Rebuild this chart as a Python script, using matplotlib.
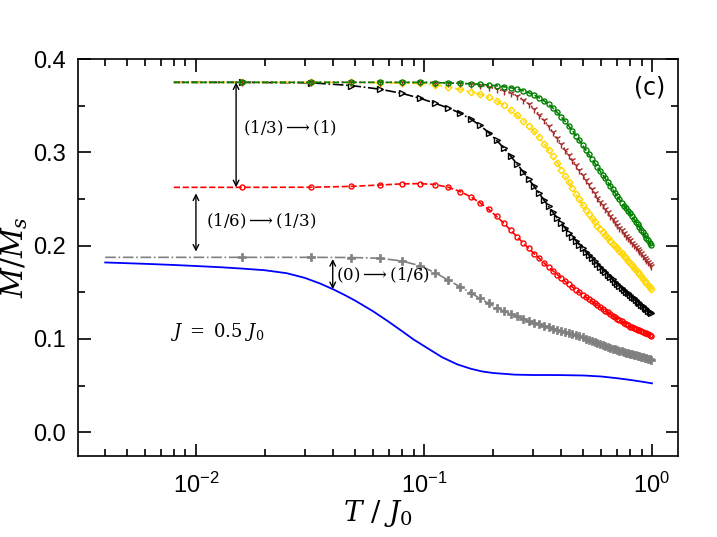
import numpy as np
import matplotlib
matplotlib.use("Agg")
import matplotlib.pyplot as plt

# temperatura de los marcadores (paso 0.016)
T = np.round(np.arange(1, 63) * 0.016, 3)

green = [0.375, 0.375, 0.375, 0.375, 0.375, 0.3749, 0.3747, 0.3744, 0.3740, 0.3735,
         0.3729, 0.3721, 0.3713, 0.3703, 0.3692, 0.3680, 0.3660, 0.3638, 0.3614, 0.3584,
         0.3552, 0.3516, 0.3474, 0.3428, 0.3380, 0.3332, 0.3282, 0.3231, 0.3180, 0.3128,
         0.3076, 0.3026, 0.2978, 0.2932, 0.2887, 0.2843, 0.2800, 0.2760, 0.2720, 0.2680,
         0.2641, 0.2603, 0.2566, 0.2530, 0.2496, 0.2462, 0.2430, 0.2405, 0.2375, 0.2345,
         0.2316, 0.2287, 0.2258, 0.2229, 0.2200, 0.2171, 0.2142, 0.2114, 0.2086, 0.2058,
         0.2030, 0.2002]
brown = [0.375, 0.375, 0.375, 0.375, 0.375, 0.3749, 0.3747, 0.3744, 0.3740, 0.3732,
         0.3718, 0.3700, 0.3680, 0.3657, 0.3632, 0.3603, 0.3565, 0.3520, 0.3468, 0.3405,
         0.3342, 0.3278, 0.3216, 0.3154, 0.3092, 0.3030, 0.2972, 0.2917, 0.2862, 0.2808,
         0.2755, 0.2705, 0.2656, 0.2608, 0.2561, 0.2516, 0.2472, 0.2432, 0.2394, 0.2357,
         0.2321, 0.2287, 0.2254, 0.2222, 0.2192, 0.2163, 0.2135, 0.2108, 0.2082, 0.2057,
         0.2033, 0.2009, 0.1986, 0.1963, 0.1940, 0.1917, 0.1894, 0.1871, 0.1848, 0.1825,
         0.1802, 0.1779]
yellow = [0.375, 0.375, 0.3749, 0.3747, 0.3743, 0.3738, 0.3725, 0.3700, 0.3675, 0.3650,
          0.3622, 0.3590, 0.3552, 0.3505, 0.3450, 0.3395, 0.3340, 0.3284, 0.3225, 0.3160,
          0.3093, 0.3025, 0.2956, 0.2886, 0.2816, 0.2746, 0.2680, 0.2617, 0.2555, 0.2495,
          0.2435, 0.2385, 0.2340, 0.2297, 0.2256, 0.2216, 0.2178, 0.2145, 0.2113, 0.2082,
          0.2052, 0.2023, 0.1996, 0.1970, 0.1944, 0.1918, 0.1892, 0.1866, 0.1841, 0.1816,
          0.1791, 0.1766, 0.1742, 0.1718, 0.1694, 0.1671, 0.1648, 0.1625, 0.1602, 0.1580,
          0.1558, 0.1536]
black = [0.3750, 0.3745, 0.3716, 0.3677, 0.3632, 0.3580, 0.3525, 0.3475, 0.3420, 0.3358,
         0.3290, 0.3212, 0.3130, 0.3045, 0.2960, 0.2875, 0.2792, 0.2712, 0.2635, 0.2560,
         0.2488, 0.2420, 0.2356, 0.2296, 0.2240, 0.2188, 0.2140, 0.2095, 0.2052, 0.2011,
         0.1972, 0.1935, 0.1900, 0.1866, 0.1834, 0.1803, 0.1773, 0.1744, 0.1716, 0.1689,
         0.1663, 0.1638, 0.1614, 0.1591, 0.1569, 0.1548, 0.1528, 0.1508, 0.1489, 0.1470,
         0.1452, 0.1434, 0.1417, 0.1400, 0.1383, 0.1367, 0.1351, 0.1335, 0.1320, 0.1305,
         0.1290, 0.1276]
red = [0.2625, 0.2626, 0.2635, 0.2650, 0.2662, 0.2665, 0.2655, 0.2625, 0.2580, 0.2525,
       0.2460, 0.2390, 0.2315, 0.2240, 0.2165, 0.2095, 0.2030, 0.1970, 0.1915, 0.1865,
       0.1815, 0.1770, 0.1730, 0.1690, 0.1652, 0.1618, 0.1586, 0.1556, 0.1527, 0.1500,
       0.1474, 0.1449, 0.1425, 0.1403, 0.1381, 0.1360, 0.1340, 0.1321, 0.1302, 0.1284,
       0.1267, 0.1245, 0.1231, 0.1217, 0.1203, 0.1189, 0.1175, 0.1161, 0.1147, 0.1132,
       0.1124, 0.1116, 0.1108, 0.1100, 0.1092, 0.1084, 0.1076, 0.1068, 0.1060, 0.1052,
       0.1044, 0.1036]
gray = [0.1875, 0.1875, 0.1873, 0.1865, 0.1836, 0.1785, 0.1710, 0.1630, 0.1560, 0.1495,
        0.1436, 0.1382, 0.1335, 0.1298, 0.1268, 0.1242, 0.1218, 0.1195, 0.1175, 0.1158,
        0.1140, 0.1125, 0.1111, 0.1097, 0.1085, 0.1073, 0.1061, 0.1050, 0.1038, 0.1027,
        0.1016, 0.1005, 0.0994, 0.0983, 0.0970, 0.0958, 0.0947, 0.0937, 0.0927, 0.0917,
        0.0907, 0.0898, 0.0890, 0.0882, 0.0874, 0.0867, 0.0860, 0.0853, 0.0846, 0.0840,
        0.0835, 0.0830, 0.0825, 0.0820, 0.0815, 0.0810, 0.0805, 0.0800, 0.0795, 0.0790,
        0.0785, 0.0780]

# inicio de las lineas (sin marcador)
T_start = 0.008
T_start_gray = 0.004

# curva azul (sin marcadores)
T_blue = [0.004, 0.005, 0.0065, 0.008, 0.01, 0.013, 0.016, 0.02, 0.025, 0.03,
          0.035, 0.04, 0.045, 0.05, 0.06, 0.07, 0.08, 0.09, 0.1, 0.12,
          0.14, 0.16, 0.18, 0.2, 0.25, 0.3, 0.35, 0.4, 0.5, 0.6,
          0.7, 0.8, 0.9, 1.0]
blue = [0.1820, 0.1812, 0.1802, 0.1793, 0.1782, 0.1768, 0.1754, 0.1737, 0.1705, 0.1655,
        0.1595, 0.1532, 0.1470, 0.1410, 0.1295, 0.1185, 0.1085, 0.0995, 0.0925, 0.0805,
        0.0728, 0.0682, 0.0652, 0.0636, 0.0618, 0.0614, 0.0614, 0.0613, 0.0609, 0.0598,
        0.0580, 0.0562, 0.0543, 0.0525]

plt.rcParams['font.family'] = ['Liberation Sans', 'DejaVu Sans']

fig = plt.figure(figsize=(7.17, 5.37), dpi=100)
ax = fig.add_axes([0.1088, 0.1508, 0.8368, 0.7393])

def curve(x0, ys, **kw):
    xs = np.concatenate([[x0], T])
    ys = np.concatenate([[ys[0]], ys])
    ax.plot(xs, ys, markevery=slice(1, None), **kw)

curve(T_start_gray, gray, color='gray', ls='-.', lw=1.2, marker='P', ms=5.5, mec='gray', mfc='gray', mew=0.5)
ax.plot(T_blue, blue, color='blue', lw=1.3)
curve(T_start, red, color='red', ls='--', lw=1.2, marker='o', ms=3.6, mfc='none', mew=1.0)
curve(T_start, black, color='black', ls='-.', lw=1.2, marker='>', ms=4.2, mfc='none', mew=1.0)
curve(T_start, yellow, color='gold', ls=(0, (5, 2, 1, 2, 1, 2)), lw=1.2, marker='D', ms=3.4, mfc='none', mew=1.0)
curve(T_start, brown, color='brown', ls=':', lw=1.2, marker='1', ms=6, mew=1.0)
curve(T_start, green, color='green', ls='--', lw=1.2, marker='o', ms=3.6, mfc='none', mew=1.0)

arrow = dict(arrowstyle='<->', lw=1.0, color='k', shrinkA=0, shrinkB=0, mutation_scale=10)
ax.annotate('', xy=(0.015, 0.375), xytext=(0.015, 0.2625), arrowprops=arrow)
ax.annotate('', xy=(0.01, 0.256), xytext=(0.01, 0.1936), arrowprops=arrow)
ax.annotate('', xy=(0.0398, 0.1857), xytext=(0.0398, 0.1533), arrowprops=arrow)

serif = dict(family='DejaVu Serif', math_fontfamily='dejavuserif', fontsize=12, va='center')
ax.text(0.0161, 0.326, r'(1/3)$\longrightarrow$(1)', **serif)
ax.text(0.0111, 0.2257, r'(1/6)$\longrightarrow$(1/3)', **serif)
ax.text(0.0412, 0.1686, r'(0)$\longrightarrow$(1/6)', **serif)
ax.text(0.0077, 0.108, r'$J\ =\ 0.5\ J_0$', fontsize=13, math_fontfamily='dejavuserif', va='center')
ax.text(0.978, 0.927, '(c)', transform=ax.transAxes, fontsize=17, family='DejaVu Sans',
        ha='right', va='center')

ax.set_xscale('log')
ax.set_xlim(0.00304, 1.30)
ax.set_ylim(-0.0254, 0.4)
ax.set_yticks([0.0, 0.1, 0.2, 0.3, 0.4])
ax.set_yticks(np.arange(0.05, 0.4, 0.1), minor=True)
ax.tick_params(which='both', direction='in', top=True, right=True, width=1.2, labelsize=17)
ax.tick_params(which='major', length=9)
ax.tick_params(which='minor', length=5)
ax.tick_params(axis='x', pad=12)
ax.tick_params(axis='y', pad=9)
for s in ax.spines.values():
    s.set_linewidth(1.2)

ax.set_xlabel(r'$T\ /\ J_0$', fontsize=20, math_fontfamily='dejavuserif', labelpad=0)
ax.set_ylabel(r'$M/M_s$', fontsize=21, math_fontfamily='dejavuserif', labelpad=2)

fig.savefig('out.png', dpi=100)
